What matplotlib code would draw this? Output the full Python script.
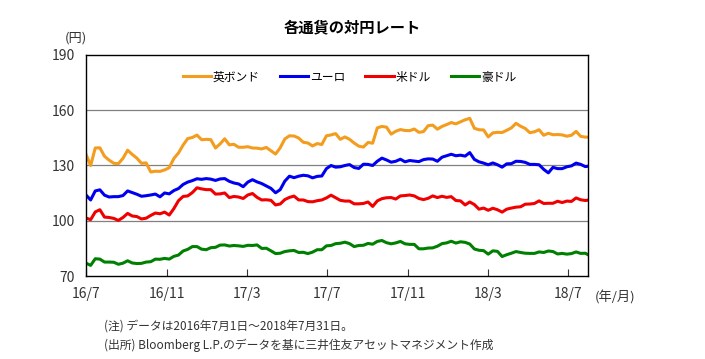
import numpy as np
import pandas as pd
import matplotlib
matplotlib.use("Agg")
import matplotlib.pyplot as plt
import matplotlib.dates as mdates

plt.rcParams['font.family'] = ['Noto Sans CJK JP', 'DejaVu Sans']

# weekly readings (Fridays) 2016/7/1 - 2018/7/27, plus 2018/7/31
dates = list(pd.date_range('2016-07-01', '2018-07-27', freq='W-FRI')) + [pd.Timestamp('2018-07-31')]

gbp = [136.0, 130.0, 139.5, 139.6, 135.0, 132.9, 131.2, 131.0, 133.9, 138.3, 136.0, 134.0, 131.2, 131.4,
       126.5, 126.9, 126.8, 127.6, 128.8, 133.8, 136.8, 141.1, 144.6, 145.2, 146.5, 144.0, 144.2,
       144.0, 139.5, 141.7, 144.5, 141.2, 141.5, 139.9, 139.9, 140.2, 139.5, 139.4, 139.0, 139.8,
       138.0, 136.2, 139.6, 144.4, 146.1, 146.0, 144.9, 142.6, 142.2, 140.6, 141.9, 141.4, 146.1,
       146.6, 147.3, 144.2, 145.5, 144.2, 142.2, 140.5, 140.0, 142.5, 142.1, 150.4, 151.2, 150.8,
       147.0, 148.6, 149.5, 149.0, 148.9, 149.8, 148.0, 148.4, 151.6, 151.9, 149.7, 151.2, 152.2,
       153.3, 152.6, 153.7, 154.8, 155.6, 150.2, 149.4, 149.3, 145.5, 147.7, 148.0, 147.9, 149.1,
       150.4, 152.9, 151.3, 150.1, 147.8, 148.3, 149.4, 146.4, 147.5, 146.7, 146.8, 146.6, 145.9,
       146.4, 148.5, 145.8, 145.4, 145.4]
eur = [114.0, 111.3, 116.2, 116.8, 113.9, 112.9, 113.1, 113.1, 113.7, 116.2, 115.3, 114.4, 113.3, 113.6,
       114.0, 114.5, 113.0, 115.1, 114.6, 116.4, 117.5, 119.7, 121.0, 121.8, 122.8, 122.5, 122.9,
       122.6, 121.9, 122.7, 122.9, 121.4, 120.5, 120.0, 118.5, 121.0, 122.3, 121.1, 120.2, 118.9,
       117.6, 115.2, 116.9, 121.5, 124.2, 123.4, 124.2, 124.7, 124.4, 123.3, 124.1, 124.3, 128.3,
       130.0, 129.1, 129.3, 130.0, 130.5, 128.9, 128.4, 130.7, 130.6, 130.0, 132.3, 134.0, 133.0,
       131.8, 132.3, 133.4, 132.0, 132.7, 132.4, 132.1, 133.2, 133.6, 133.5, 132.3, 134.5, 135.3,
       136.1, 135.3, 135.6, 135.1, 137.0, 133.3, 132.0, 131.3, 130.4, 131.4, 130.4, 129.1, 130.9,
       131.0, 132.3, 132.2, 131.7, 130.6, 130.6, 130.4, 127.9, 126.0, 129.0, 128.3, 128.3, 129.3,
       129.8, 131.3, 130.6, 129.4, 129.6]
usd = [101.5, 100.6, 104.8, 106.0, 102.0, 101.8, 101.3, 100.2, 101.8, 104.0, 102.6, 102.3, 101.0, 101.4,
       102.9, 104.2, 103.8, 104.7, 103.1, 106.6, 110.9, 113.2, 113.5, 115.3, 117.9, 117.3, 116.9,
       116.9, 114.5, 114.6, 115.1, 112.6, 113.2, 112.9, 112.1, 114.0, 114.8, 112.7, 111.3, 111.4,
       111.1, 108.6, 109.1, 111.5, 112.7, 113.4, 111.3, 111.3, 110.4, 110.3, 110.9, 111.3, 112.4,
       113.9, 112.5, 111.1, 110.7, 110.7, 109.2, 109.2, 109.4, 110.2, 107.8, 110.8, 112.0, 112.5,
       112.6, 111.8, 113.5, 113.7, 114.0, 113.5, 112.1, 111.5, 112.2, 113.5, 112.6, 113.3, 112.7,
       113.1, 111.0, 110.8, 108.6, 110.2, 108.8, 106.3, 106.9, 105.7, 106.8, 106.0, 104.7, 106.3,
       106.9, 107.4, 107.6, 109.0, 109.1, 109.4, 110.8, 109.4, 109.5, 109.5, 110.6, 109.9, 110.7,
       110.5, 112.4, 111.4, 111.0, 111.2]
aud = [77.0, 75.8, 79.4, 79.2, 77.6, 77.6, 77.5, 76.4, 77.0, 78.3, 77.1, 76.8, 76.9, 77.6,
       77.8, 79.2, 79.1, 79.6, 79.2, 80.7, 81.4, 83.6, 84.5, 86.0, 86.0, 84.6, 84.3,
       85.4, 85.6, 86.8, 86.9, 86.3, 86.6, 86.4, 86.1, 86.7, 86.6, 86.9, 85.0, 85.1,
       83.7, 82.2, 82.4, 83.3, 83.7, 83.9, 82.8, 82.9, 82.2, 83.0, 84.3, 84.3, 86.4,
       86.6, 87.6, 87.8, 88.4, 87.6, 86.0, 86.6, 86.7, 87.7, 87.3, 88.8, 89.3, 88.1,
       87.5, 88.0, 88.8, 87.5, 87.2, 87.2, 84.8, 84.8, 85.2, 85.3, 86.2, 87.6, 88.0,
       88.9, 87.9, 88.6, 88.3, 87.4, 84.7, 84.0, 83.8, 81.9, 83.7, 83.4, 80.6, 81.6,
       82.4, 83.3, 82.8, 82.4, 82.3, 82.3, 83.1, 82.8, 83.6, 83.3, 82.0, 82.3, 81.9,
       82.2, 83.1, 82.3, 82.4, 81.6]

names = ['英ボンド', 'ユーロ', '米ドル', '豪ドル']
colors = ['#F39C1E', '#0000F0', '#F00000', '#008000']
tick_dates = ['2016-07-01', '2016-11-01', '2017-03-01', '2017-07-01', '2017-11-01', '2018-03-01', '2018-07-01']
tick_labels = ['16/7', '16/11', '17/3', '17/7', '17/11', '18/3', '18/7']

fig = plt.figure(figsize=(7.05, 3.59), dpi=100)
ax = fig.add_axes([0.122, 0.231, 0.712, 0.616])

for s, name, c in zip([gbp, eur, usd, aud], names, colors):
    ax.plot(dates, s, color=c, lw=2.2, label=name)

ax.set_ylim(70, 190)
ax.set_yticks([70, 100, 130, 160, 190])
ax.set_xlim(pd.Timestamp('2016-07-01'), pd.Timestamp('2018-07-31'))
ax.set_xticks(pd.to_datetime(tick_dates))
ax.set_xticklabels(tick_labels)
for y in [100, 130, 160]:
    ax.axhline(y, color='#808080', lw=0.9, zorder=0)

ax.tick_params(axis='x', direction='in', length=5, labelsize=10, pad=8, colors='#333333')
ax.tick_params(axis='y', length=0, labelsize=10, pad=8, colors='#333333')
for sp in ax.spines.values():
    sp.set_linewidth(1.0)
    sp.set_color('black')

ax.legend(loc='center', bbox_to_anchor=(0.525, 0.9), ncol=4, frameon=False, fontsize=8.5,
          handlelength=2.4, handletextpad=0.15, columnspacing=1.7)

fig.text(0.5, 0.925, '各通貨の対円レート', ha='center', va='center', fontsize=11, fontweight='bold')
fig.text(0.108, 0.895, '(円)', ha='center', va='center', fontsize=9.5, color='#333333')
fig.text(0.843, 0.172, '(年/月)', ha='left', va='center', fontsize=9.5, color='#333333')
fig.text(0.147, 0.093, '(注) データは2016年7月1日～2018年7月31日。', ha='left', va='center', fontsize=8.5, color='#333333')
fig.text(0.147, 0.037, '(出所) Bloomberg L.P.のデータを基に三井住友アセットマネジメント作成', ha='left', va='center', fontsize=8.5, color='#333333')

fig.savefig('out.png', dpi=100)
